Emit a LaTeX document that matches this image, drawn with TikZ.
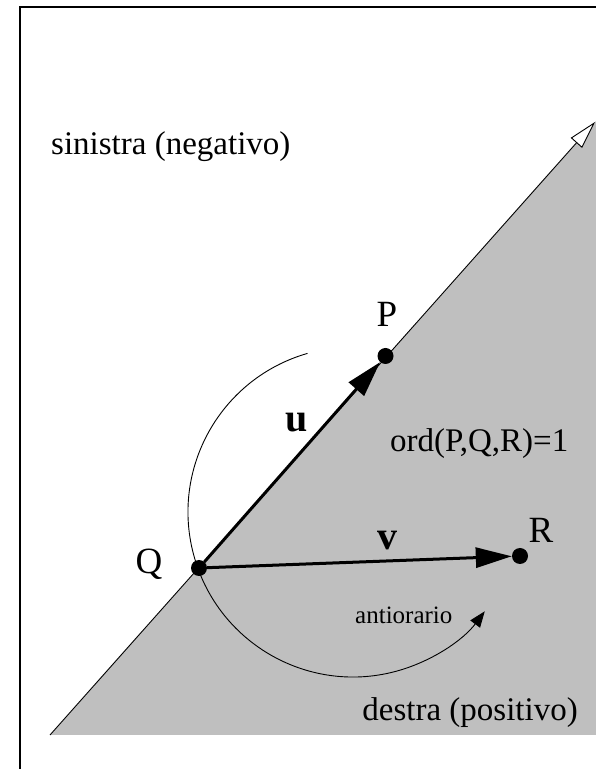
\documentclass[tikz,border=0pt]{standalone}
\usepackage{fontspec}
\setmainfont{Liberation Serif}
\usetikzlibrary{arrows.meta}
\tikzset{
  dot/.style={circle,fill=black,inner sep=0pt,minimum size=16pt},
  vec/.style={line width=3pt,-{Triangle[length=36pt,width=20pt]}},
  lbl/.style={inner sep=0pt,font=\fontsize{33}{40}\selectfont},
  ptlbl/.style={inner sep=0pt,font=\fontsize{37}{44}\selectfont},
  blbl/.style={inner sep=0pt,font=\fontsize{40}{46}\selectfont\bfseries},
  smalllbl/.style={inner sep=0pt,font=\fontsize{25}{30}\selectfont},
}
\begin{document}
\begin{tikzpicture}[x=1pt,y=1pt]
\useasboundingbox (0,0) rectangle (596,769);
% half-plane
\fill[black!25] (50,34) -- (596,648) -- (596,34) -- cycle;
% frame
\draw[line width=1.2pt] (20,0) -- (20,762) -- (596,762);
% boundary line
\coordinate (A) at (50,34);
\coordinate (B) at (595,647);
\draw[line width=0.9pt,-{Triangle[open,fill=white,length=28pt,width=15pt]}] (A) -- (B);
% points
\node[dot] (Q) at (199,201) {};
\node[dot] (P) at (385.5,413) {};
\node[dot] (R) at (520,213) {};
% arc
\draw[line width=0.9pt,-{Triangle[length=16pt,width=12pt]}] (353,257) ++(106:165) arc[start angle=106,end angle=323,radius=165];
% vectors
\draw[vec] (Q) -- (P);
\draw[vec] (Q) -- (R);
% labels
\node[lbl,anchor=base west] (sin) at (51,614) {sinistra (negativo)};
\node[ptlbl,anchor=base] (Pl) at (387,442) {P};
\node[ptlbl,anchor=base] (Ql) at (149,195) {Q};
\node[ptlbl,anchor=base] (Rl) at (541,226) {R};
\node[blbl,anchor=base] (ul) at (297,337) {u};
\node[blbl,anchor=base] (vl) at (387,219) {v};
\node[lbl,anchor=base west] (ord) at (390,317) {ord(P,Q,R)=1};
\node[smalllbl,anchor=base west] (anti) at (355,145) {antiorario};
\node[lbl,anchor=base east] (des) at (578,48) {destra (positivo)};
\end{tikzpicture}
\end{document}
